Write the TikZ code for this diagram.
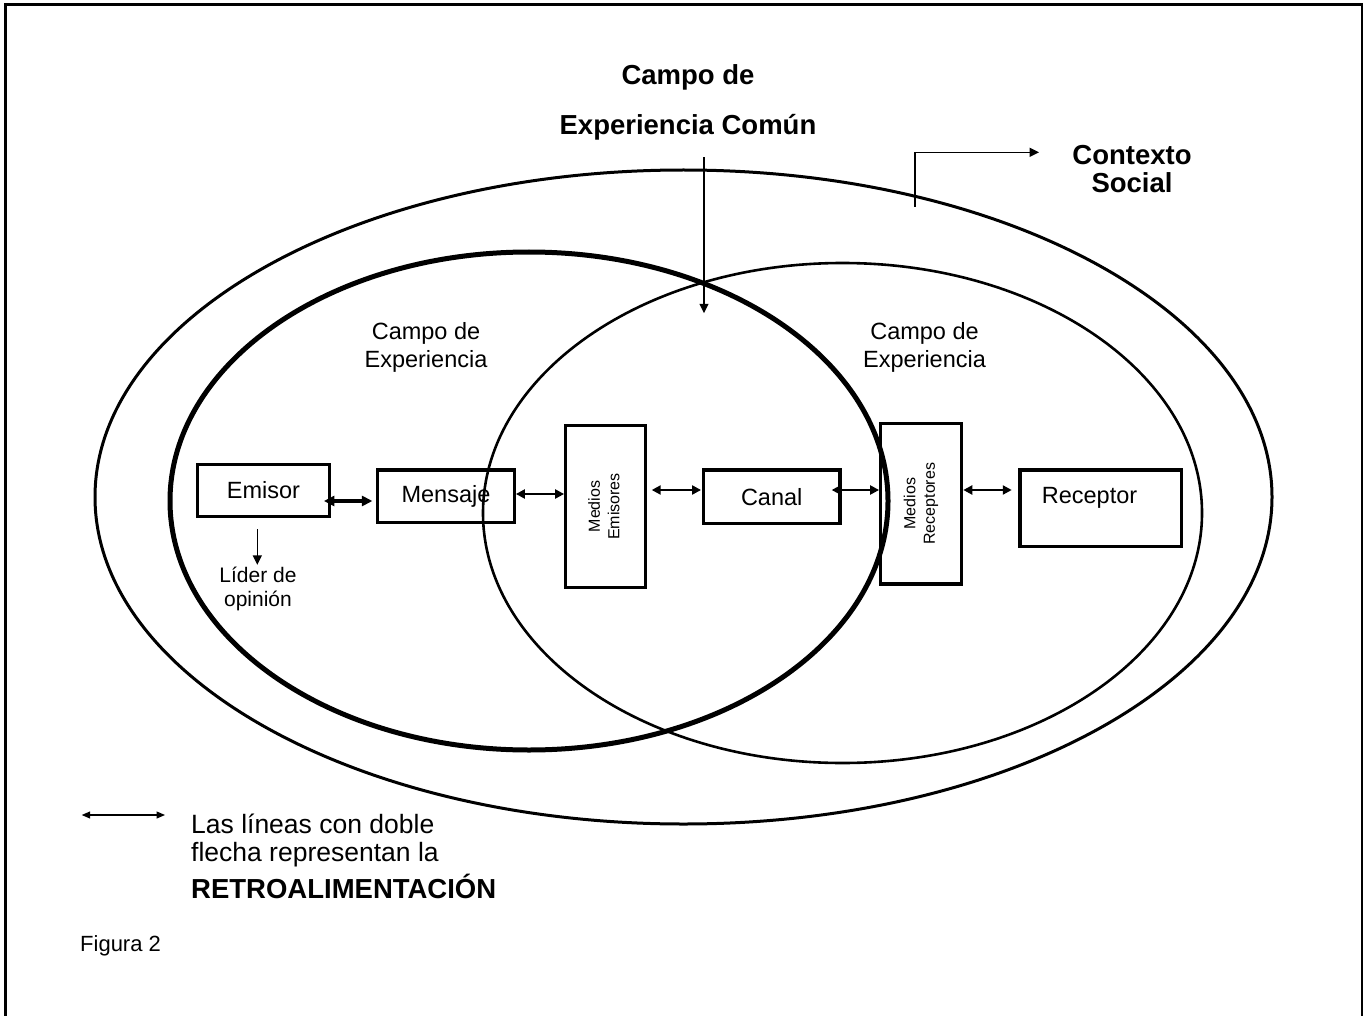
\documentclass[tikz,border=0pt]{standalone}
\usepackage{fontspec}
\setmainfont{Liberation Sans}
\usepackage{graphicx}
\usetikzlibrary{arrows.meta}
\begin{document}
\begin{tikzpicture}[x=1pt,y=-1pt,
  boxnode/.style={draw,line width=3.2pt,inner sep=0pt,font=\fontsize{23.5}{28}\selectfont},
  vboxnode/.style={boxnode,font=\fontsize{16}{19.5}\selectfont},
  fb/.style={line width=2.2pt,{Triangle[length=9pt,width=9pt]}-{Triangle[length=9pt,width=9pt]}},
  fbthick/.style={line width=3.2pt,{Triangle[length=10.5pt,width=10pt]}-{Triangle[length=10.5pt,width=10pt]}},
  thinarrow/.style={line width=1.5pt,-{Triangle[length=9.5pt,width=9pt]}},
  legarrow/.style={line width=1.3pt,{Triangle[length=8.5pt,width=7pt]}-{Triangle[length=8.5pt,width=7pt]}},
  regtext/.style={align=center,font=\fontsize{23.5}{28}\selectfont},
  boldtext/.style={align=center,font=\fontsize{27.5}{28}\selectfont\bfseries},
]
\useasboundingbox (0,0) rectangle (1367,1016);
% frame
\draw[line width=2.5pt] (5.5,4.5) rectangle (1362,1030);

% ellipses
\draw[line width=3pt] (683.5,497) ellipse [x radius=588.5pt, y radius=327pt];
\draw[line width=5pt] (529,501) ellipse [x radius=359pt, y radius=249pt];
\draw[line width=2.6pt] (842.5,513) ellipse [x radius=359.5pt, y radius=250pt];

% boxes
\node[boxnode,minimum width=131.6pt,minimum height=52.4pt] (emisor) at (263.5,490.5) {Emisor};
\node[boxnode,minimum width=136.6pt,minimum height=52.7pt] (mensaje) at (446,496.3) {Mensaje};
\node[vboxnode,minimum width=80pt,minimum height=161.6pt] (medem) at (605.7,506.5)
  {\rotatebox{90}{\begin{tabular}{@{}c@{}}Medios\\Emisores\end{tabular}}};
\node[boxnode,minimum width=136.7pt,minimum height=53.3pt] (canal) at (771.7,496.7) {Canal};
\node[vboxnode,minimum width=81pt,minimum height=160.7pt] (medrec) at (921.2,503.7)
  {\rotatebox{90}{\begin{tabular}{@{}c@{}}Medios\\Receptores\end{tabular}}};
\node[boxnode,minimum width=161.7pt,minimum height=76.7pt,
  label={[xshift=-11.3pt,yshift=10.9pt,font=\fontsize{23.5}{28}\selectfont]center:Receptor}] (receptor) at (1100.8,508.3) {};

% double arrows
\draw[fbthick,shorten <=-7pt,shorten >=3.7pt] ([yshift=-10.5pt]emisor.east) -- ([yshift=-4.7pt]mensaje.west);
\draw[fb] ([yshift=2.3pt]mensaje.east) -- ([yshift=12.5pt]medem.west);
\draw[fb,shorten <=4.4pt,shorten >=0.7pt] ([yshift=16.5pt]medem.east) -- ([yshift=6.7pt]canal.west);
\draw[fb,shorten <=-10pt] ([yshift=6.7pt]canal.east) -- ([yshift=13.7pt]medrec.west);
\draw[fb,shorten >=6.6pt] ([yshift=13.7pt]medrec.east) -- ([yshift=18.3pt]receptor.west);

% lider de opinion
\node[align=center,font=\fontsize{21}{24}\selectfont,inner sep=0pt] (lider) at (258,588.5) {Líder de\\opinión};
\coordinate (lidstart) at (257.3,529.3);
\draw[thinarrow,shorten >=1.5pt] (lidstart) -- (lidstart |- lider.north);

% campo de experiencia labels
\node[regtext] (campoL) at (426,347) {Campo de\\Experiencia};
\node[regtext] (campoR) at (924.5,347) {Campo de\\Experiencia};

% title
\node[align=center,font=\fontsize{27.5}{50}\selectfont\bfseries] (comun) at (688,102) {Campo de\\Experiencia Común};
\coordinate (comtop) at (704,157.3);
\coordinate (comend) at (704,313.3);
\draw[thinarrow] (comtop) -- (comend);

% contexto social
\node[boldtext] (contexto) at (1132,169) {Contexto\\Social};
\coordinate (ctxstart) at (915,206.7);
\coordinate (ctxend) at (1039,152.3);
\draw[thinarrow] (ctxstart) |- (ctxend);

% legend
\coordinate (lg1) at (81.7,815);
\coordinate (lg2) at (165,815);
\draw[legarrow] (lg1) -- (lg2);
\node[anchor=north west,inner sep=0pt,align=left,font=\fontsize{26.5}{28.3}\selectfont] (legend) at (191,813.5)
  {Las líneas con doble\\flecha representan la\\[5.7pt]{\fontsize{27.5}{28}\selectfont\bfseries RETROALIMENTACIÓN}};

\node[anchor=west,inner sep=0pt,font=\fontsize{22}{26}\selectfont] (figura) at (80,946) {Figura 2};
\end{tikzpicture}
\end{document}
